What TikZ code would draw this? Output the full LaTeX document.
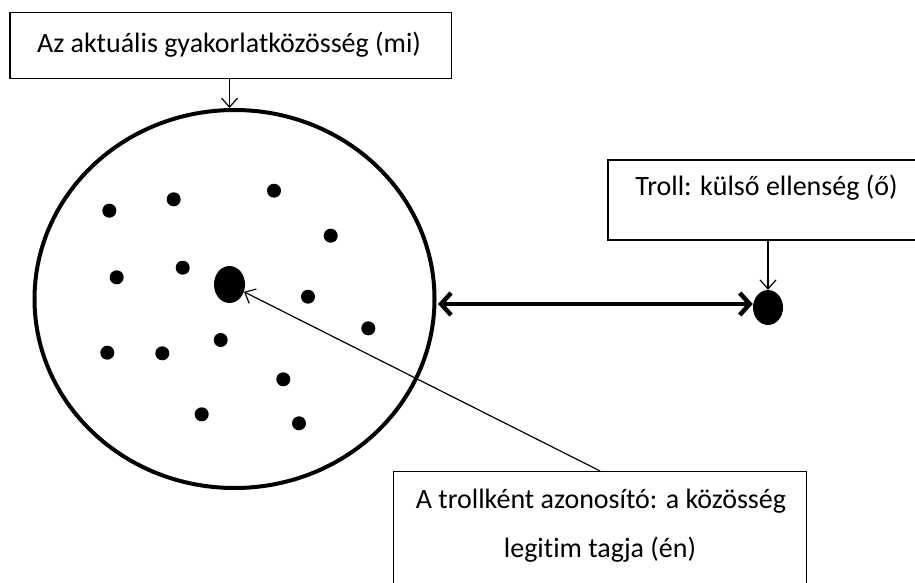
\documentclass[tikz,border=0pt]{standalone}
\usepackage{fontspec}
\setmainfont[Ligatures=NoCommon]{Carlito}
\usetikzlibrary{shapes.geometric,arrows.meta,calc}
\begin{document}
\begin{tikzpicture}[x=1pt,y=-1pt,
  boxst/.style={draw=black,line width=1.5pt,fill=white,inner sep=0pt},
  txt/.style={inner sep=0pt,font=\fontsize{28}{33}\selectfont,text=black},
  dotsm/.style={circle,fill=black,inner sep=0pt,minimum size=14pt},
  dotbig/.style={ellipse,fill=black,inner sep=0pt},
  thinarr/.style={line width=1.2pt,-{Straight Barb[length=9pt,width=16pt]}},
  dblarr/.style={line width=4.5pt,{Straight Barb[length=10pt,width=22pt]}-{Straight Barb[length=10pt,width=22pt]}}]
\useasboundingbox[fill=white] (0,0) rectangle (915,583);
% boxes
\node[boxst,minimum width=441.7pt,minimum height=65.6pt] (b1) at (230.85,45.5) {};
\node[boxst,minimum width=330pt,minimum height=80pt] (b2) at (773,200) {};
\node[boxst,minimum width=413.4pt,minimum height=140pt] (b3) at (600,541.7) {};
\node[txt] (t1) at (229,45) {Az aktuális gyakorlatközösség (mi)};
\node[txt] (t2) at (766.5,188) {Troll: külső ellenség (ő)};
\node[txt] (t3a) at (601,501) {A trollként azonosító: a közösség};
\node[txt] (t3b) at (600,550) {legitim tagja (én)};
% community circle
\node[ellipse,draw=black,line width=4pt,minimum width=400pt,minimum height=378pt,inner sep=0pt] (circ) at (234.5,299) {};
% dots
\node[dotbig,minimum width=31pt,minimum height=37pt] (big) at (229.5,284.5) {};
\node[dotbig,minimum width=30pt,minimum height=35pt] (dotR) at (768,307.5) {};
\foreach \n/\x/\y in {1/109.3/210.7,2/173.7/199.3,3/274/190.7,4/330.7/235.7,5/116.7/277.3,6/182.7/267.7,7/308/296.7,8/368.3/328.3,9/107.3/352.7,10/162.3/353.3,11/220.7/340,12/283.3/379.3,13/201.7/414.3,14/299/423.3}
  \node[dotsm] (d\n) at (\x,\y) {};
% connectors
\draw[thinarr] (b1.south -| big) -- (circ.north -| big);
\draw[thinarr] (b2.south -| dotR) -- (dotR.north);
\draw[thinarr] (b3.north) -- (big);
\draw[dblarr] ($(circ.east)+(1.5,5)$) -- ($(dotR.west)+(0,-3.5)$);
\end{tikzpicture}
\end{document}
